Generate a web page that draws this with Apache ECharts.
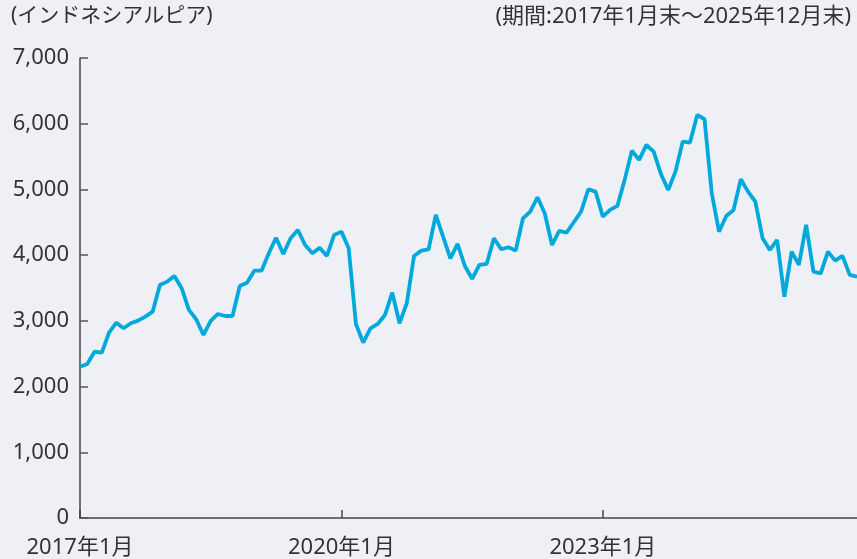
<!DOCTYPE html>
<html>
<head>
<meta charset="utf-8">
<script src="https://cdn.jsdelivr.net/npm/echarts@6/dist/echarts.min.js"></script>
<style>
html, body { margin: 0; padding: 0; background: #eef0f5; }
#main { width: 857px; height: 559px; }
</style>
</head>
<body>
<div id="main"></div>
<script>
// 月末値 2017年1月〜2025年12月 (インドネシアルピア)
var years = [2017, 2018, 2019, 2020, 2021, 2022, 2023, 2024, 2025];
var months = [];
years.forEach(function (y) {
    for (var m = 1; m <= 12; m++) months.push(y + '年' + m + '月');
});

var values = [
    2300, 2344, 2530, 2516, 2820, 2973, 2887, 2963, 3003, 3064, 3140, 3546,
    3597, 3683, 3496, 3166, 3024, 2785, 2998, 3105, 3074, 3074, 3531, 3581,
    3764, 3764, 4029, 4265, 4018, 4257, 4383, 4155, 4029, 4114, 3988, 4307,
    4358, 4105, 2953, 2668, 2887, 2953, 3090, 3429, 2963, 3268, 3988, 4069,
    4089, 4612, 4282, 3952, 4170, 3835, 3640, 3851, 3866, 4257, 4089, 4120,
    4069, 4561, 4663, 4881, 4638, 4155, 4368, 4343, 4501, 4663, 5003, 4967,
    4586, 4688, 4749, 5145, 5591, 5449, 5677, 5575, 5236, 4990, 5271, 5728,
    5713, 6134, 6068, 4942, 4358, 4596, 4688, 5155, 4967, 4814, 4257, 4079,
    4231, 3368, 4053, 3851, 4460, 3749, 3724, 4053, 3916, 3988, 3699, 3673
];

var yTicks = [0, 1000, 2000, 3000, 4000, 5000, 6000, 7000];
var unitText = '(インドネシアルピア)';
var periodText = '(期間:2017年1月末～2025年12月末)';

var font = '"Noto Sans", "Noto Sans CJK JP", sans-serif';
var textColor = '#333333';
var axisColor = '#444444';

function everyThreeYears(index) {
    return index % 36 === 0;
}

var dom = document.getElementById("main");
var myChart = echarts.init(dom);
var option = null;

option = {
    backgroundColor: '#eef0f5',
    animation: false,
    textStyle: { fontFamily: font },
    graphic: [
        {
            type: 'text', left: 11, top: 6,
            style: { text: unitText, fill: textColor, font: '21px ' + font }
        },
        {
            type: 'text', right: 6, top: 6,
            style: { text: periodText, fill: textColor, font: '22px ' + font }
        }
    ],
    grid: { left: 80, right: 0, top: 58, bottom: 41 },
    xAxis: {
        type: 'category',
        data: months,
        boundaryGap: false,
        axisLine: { lineStyle: { color: axisColor, width: 1.5 } },
        axisTick: { inside: true, length: 8, interval: everyThreeYears, lineStyle: { color: axisColor, width: 1.5 } },
        axisLabel: { interval: everyThreeYears, color: textColor, fontSize: 22, fontFamily: font, margin: 19 },
        splitLine: { show: false }
    },
    yAxis: {
        type: 'value',
        min: yTicks[0],
        max: yTicks[yTicks.length - 1],
        interval: 1000,
        axisLine: { show: true, lineStyle: { color: axisColor, width: 1.5 } },
        axisTick: { show: true, inside: true, length: 8, lineStyle: { color: '#555555', width: 1.5 } },
        axisLabel: {
            color: textColor, fontSize: 22, fontFamily: font, margin: 11,
            formatter: function (v) { return v.toLocaleString('en-US'); }
        },
        splitLine: { show: false }
    },
    series: [{
        type: 'line',
        data: values,
        symbol: 'none',
        lineStyle: { color: '#00a9db', width: 3.8 },
        clip: false
    }]
};

if (option && typeof option === "object") {
    myChart.setOption(option, true);
}
</script>
</body>
</html>
